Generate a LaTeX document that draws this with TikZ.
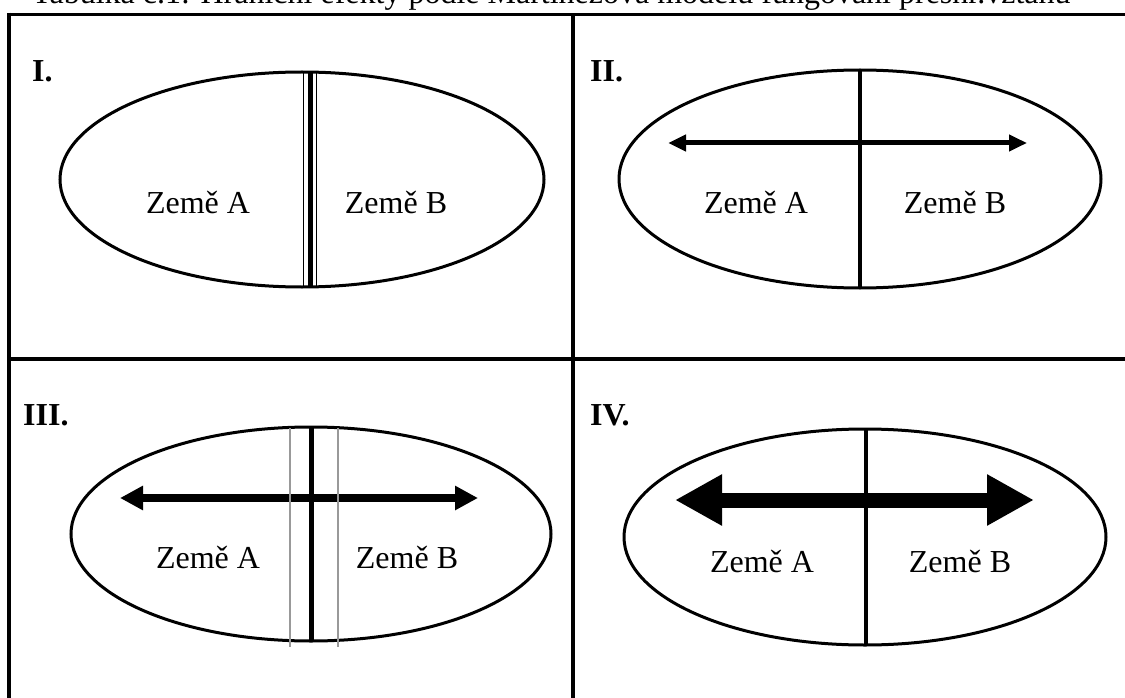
\documentclass[tikz,border=0pt]{standalone}
\usepackage{fontspec}
\setmainfont{Liberation Serif}
\usepackage{tikz}
\usetikzlibrary{arrows.meta}

\begin{document}
\begin{tikzpicture}[
    x=1pt, y=-1pt,
    every node/.style={font=\fontsize{32pt}{38pt}\selectfont, inner sep=0pt},
    frame/.style={line width=3.5pt},
    oval/.style={line width=3pt},
    num/.style={font=\fontsize{32pt}{38pt}\selectfont\bfseries, anchor=base west},
    zeme/.style={anchor=base},
    hranice/.style={line width=3.5pt},
    seda/.style={black!40, line width=1.5pt}
]
    \useasboundingbox (0,0) rectangle (1125,698);

    % Caption (cut off at the top)
    \node[anchor=base west] (titulek) at (32,4) {Tabulka č.1: Hraniční efekty podle Martinezova modelu fungování přeshr.vztahu};

    % Table
    \draw[frame] (9,14.5) -- (1140,14.5);
    \draw[frame] (9,12.75) -- (9,710);
    \draw[frame] (573,14.5) -- (573,710);
    \draw[frame] (9,359) -- (1140,359);

    % I. closed border
    \node[num] (n1) at (32,82) {I.};
    \draw[oval] (302,179.5) ellipse [x radius=242, y radius=107.5];
    \coordinate (h1) at (310,72);
    \coordinate (d1) at (310,287);
    \draw[line width=5pt] (h1) -- (d1);
    \draw[line width=1.5pt] ([xshift=-6.7pt]h1) -- ([xshift=-6.7pt]d1);
    \draw[line width=1.5pt] ([xshift=6.7pt]h1) -- ([xshift=6.7pt]d1);
    \node[zeme] (a1) at (198,213) {Země A};
    \node[zeme] (b1) at (396,213) {Země B};

    % II.
    \node[num] (n2) at (590,82) {II.};
    \draw[oval] (860,179) ellipse [x radius=241, y radius=109];
    \coordinate (h2) at (860,70);
    \coordinate (d2) at (860,288);
    \coordinate (l2) at (668,143);
    \coordinate (r2) at (1027,143);
    \draw[line width=5pt, {Triangle[length=18pt,width=16pt]}-{Triangle[length=18pt,width=16pt]}] (l2) -- (r2);
    \draw[hranice] (h2) -- (d2);
    \node[zeme] (a2) at (756,213) {Země A};
    \node[zeme] (b2) at (955,213) {Země B};

    % III.
    \node[num] (n3) at (23,425) {III.};
    \draw[oval] (311,534) ellipse [x radius=240, y radius=107];
    \coordinate (h3) at (311,427);
    \coordinate (d3) at (311,641);
    \coordinate (l3) at (120,498);
    \coordinate (r3) at (478,498);
    \draw[line width=8pt, {Triangle[length=23pt,width=23pt]}-{Triangle[length=23pt,width=23pt]}] (l3) -- (r3);
    \draw[line width=5pt] (h3) -- (d3);
    \draw[seda] (290,428) -- (290,647);
    \draw[seda] (338,428) -- (338,647);
    \node[zeme] (a3) at (208,568) {Země A};
    \node[zeme] (b3) at (407,568) {Země B};

    % IV.
    \node[num] (n4) at (590,425) {IV.};
    \draw[oval] (865,537) ellipse [x radius=241, y radius=108];
    \coordinate (h4) at (866,430);
    \coordinate (d4) at (866,645);
    \coordinate (l4) at (675,500);
    \coordinate (r4) at (1034,500);
    \draw[line width=15pt, {Triangle[length=47pt,width=48pt]}-{Triangle[length=47pt,width=48pt]}] (l4) -- (r4);
    \draw[hranice] (h4) -- (d4);
    \node[zeme] (a4) at (762,572) {Země A};
    \node[zeme] (b4) at (960,572) {Země B};
\end{tikzpicture}
\end{document}
